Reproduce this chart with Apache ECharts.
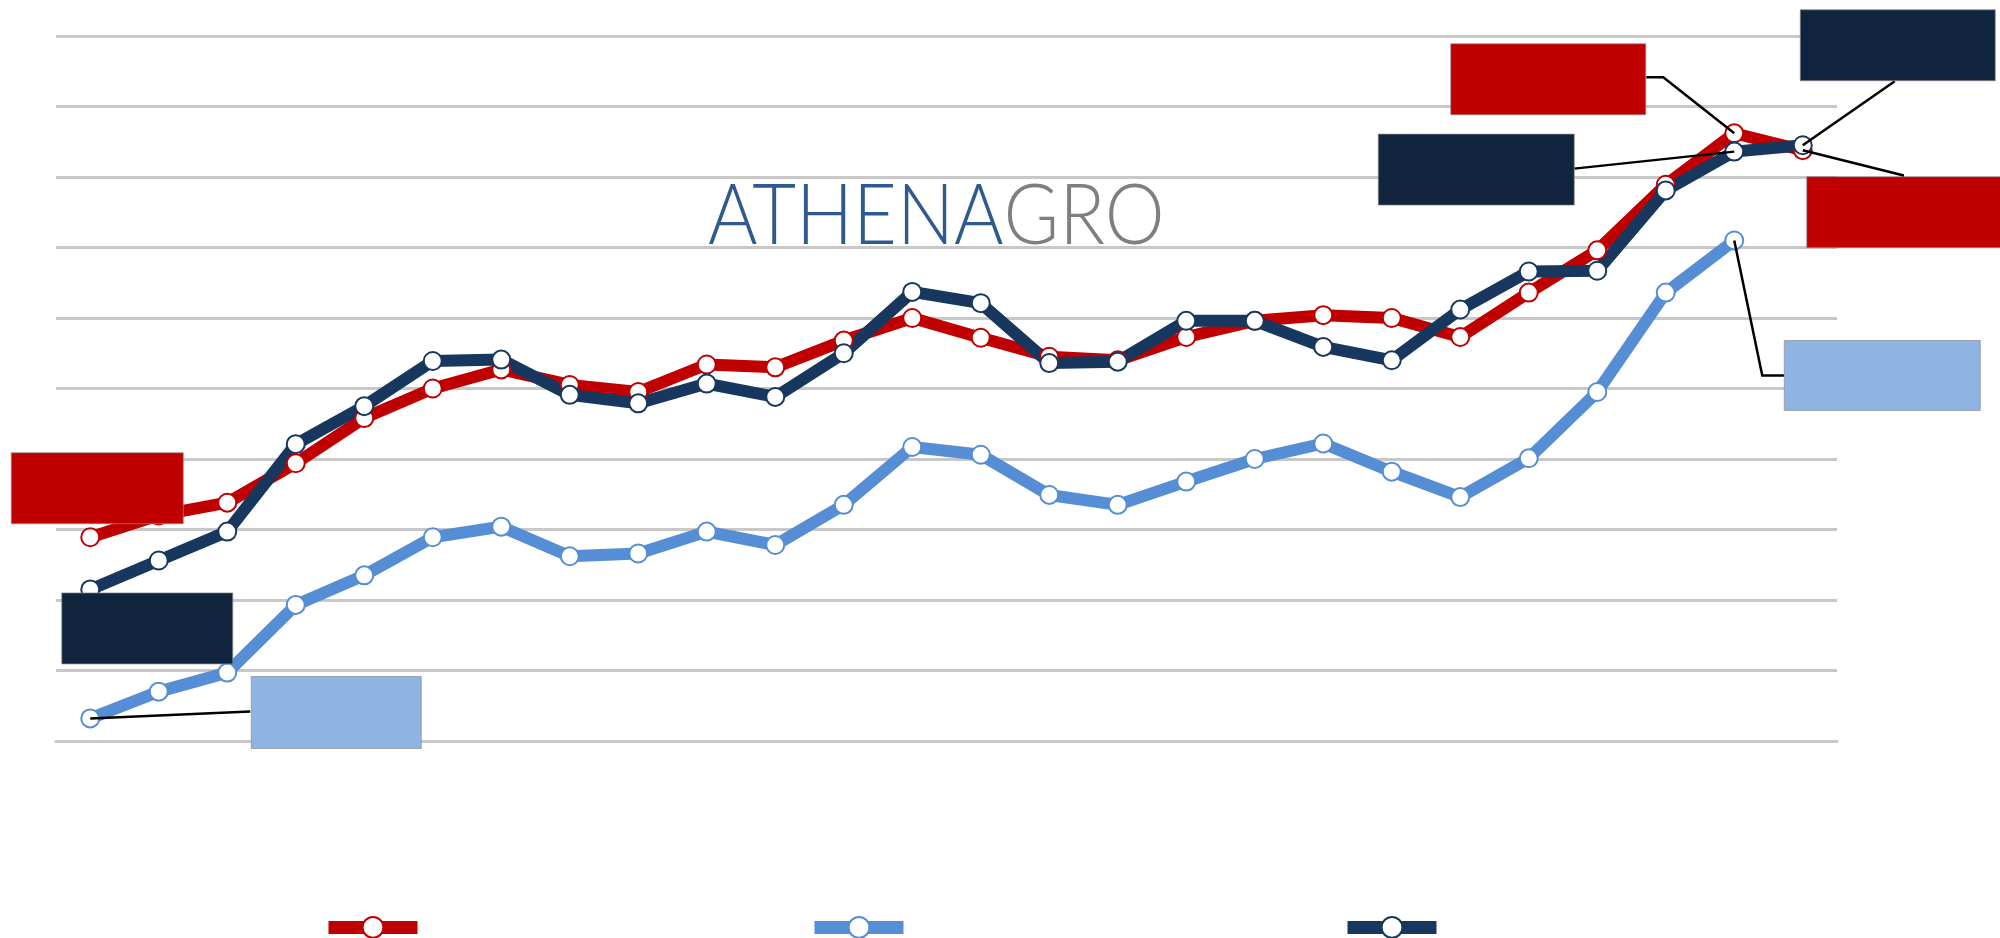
<!DOCTYPE html>
<html>
<head>
<meta charset="utf-8">
<title>ATHENAGRO</title>
<script src="https://cdn.jsdelivr.net/npm/echarts@6/dist/echarts.min.js"></script>
<style>
  html, body { margin: 0; padding: 0; background: #fff; }
  #chart { width: 2000px; height: 938px; }
</style>
</head>
<body>
<div id="chart"></div>
<script>
// categorias (las etiquetas del eje no se ven en el original)
const categories = ["1", "2", "3", "4", "5", "6", "7", "8", "9", "10", "11", "12", "13",
  "14", "15", "16", "17", "18", "19", "20", "21", "22", "23", "24", "25", "26"];

const seriesNames = ["Serie 1", "Serie 2", "Serie 3"];

const redValues = [2.89, 3.2, 3.38, 3.94, 4.58, 5.0, 5.27, 5.05, 4.95, 5.34, 5.3, 5.68, 6.0,
  5.72, 5.45, 5.4, 5.73, 5.96, 6.04, 6.0, 5.73, 6.36, 6.96, 7.89, 8.62, 8.38];
const lightBlueValues = [0.32, 0.7, 0.97, 1.93, 2.35, 2.89, 3.04, 2.62, 2.66, 2.97, 2.78, 3.35, 4.17,
  4.06, 3.49, 3.35, 3.68, 4.0, 4.22, 3.82, 3.46, 4.01, 4.95, 6.36, 7.1, null];
const navyValues = [2.15, 2.56, 2.97, 4.21, 4.75, 5.39, 5.41, 4.91, 4.79, 5.07, 4.88, 5.5, 6.37,
  6.21, 5.36, 5.38, 5.96, 5.96, 5.59, 5.4, 6.12, 6.66, 6.67, 7.81, 8.36, 8.45];

const yMin = 0;
const yMax = 10;
const yStep = 1;

const RED = "#C00000";
const LIGHT_BLUE = "#558ED5";
const NAVY = "#17375E";

// cajas de etiqueta (vacias en el original): a que punto van y como se dibujan
const seriesValues = [redValues, lightBlueValues, navyValues];
const notes = [
  { s: 0, i: 0, dx: 7, dy: -49, w: 172, h: 71, color: RED, leader: null },
  { s: 2, i: 0, dx: 57, dy: 39, w: 171, h: 71, color: "#10243E", leader: null },
  { s: 1, i: 0, dx: 246, dy: -6, w: 170, h: 72, color: "#8EB4E3", leader: [[0, 0], [160, -7]] },
  { s: 0, i: 24, dx: -186, dy: -54, w: 195, h: 71, color: RED, leader: [[0, 0], [-71, -56], [-88, -56]] },
  { s: 2, i: 24, dx: -258, dy: 18, w: 196, h: 71, color: "#10243E", leader: [[0, 0], [-160, 17]] },
  { s: 2, i: 25, dx: 95, dy: -100, w: 195, h: 71, color: "#10243E", leader: [[0, 0], [92, -64]] },
  { s: 0, i: 25, dx: 102, dy: 62, w: 196, h: 71, color: RED, leader: [[0, 0], [100, 25], [100, 28]] },
  { s: 1, i: 24, dx: 148, dy: 135, w: 196, h: 70, color: "#8EB4E3", leader: [[0, 0], [28, 135], [50, 135]] }
];

const chart = echarts.init(document.getElementById("chart"));

function lineSeries(name, values, color) {
  return {
    name: name,
    type: "line",
    data: values,
    symbol: "circle",
    symbolSize: 18,
    color: color,
    lineStyle: { width: 12, color: color },
    itemStyle: { color: "#ffffff", borderColor: color, borderWidth: 2 },
    emphasis: { disabled: true },
    z: 3
  };
}

function legendAt(name, left) {
  return {
    data: [name],
    left: left,
    top: 911,
    itemWidth: 89,
    itemHeight: 26,
    lineStyle: { width: 13 },
    textStyle: { color: "#ffffff", fontSize: 18 }
  };
}

const option = {
  backgroundColor: "#ffffff",
  animation: false,
  grid: { left: 56, right: 163, top: 36, bottom: 197 },
  legend: [
    legendAt(seriesNames[0], 317),
    legendAt(seriesNames[1], 803),
    legendAt(seriesNames[2], 1336)
  ],
  xAxis: {
    type: "category",
    data: categories,
    boundaryGap: true,
    axisTick: { show: false },
    axisLabel: { show: false },
    axisLine: { lineStyle: { color: "#C8C8C8", width: 3 } }
  },
  yAxis: {
    type: "value",
    min: yMin,
    max: yMax,
    interval: yStep,
    axisLabel: { show: false },
    axisLine: { show: false },
    axisTick: { show: false },
    splitLine: { lineStyle: { color: "#C8C8C8", width: 3 } }
  },
  graphic: [
    {
      type: "group",
      left: 700,
      top: 175,
      z: 1,
      children: [
        { type: "rect", shape: { x: 0, y: 0, width: 465, height: 72 }, style: { fill: "#ffffff" } },
        {
          type: "text",
          x: 8,
          y: 37,
          scaleX: 0.9,
          style: {
            text: "{a|ATHENA}{b|GRO}",
            verticalAlign: "middle",
            rich: {
              a: { fontFamily: "Lato", fontWeight: 300, fontSize: 84, fill: "#2F5A8F" },
              b: { fontFamily: "Lato", fontWeight: 300, fontSize: 84, fill: "#7F7F7F" }
            }
          }
        }
      ]
    }
  ],
  series: [
    lineSeries(seriesNames[0], redValues, RED),
    lineSeries(seriesNames[1], lightBlueValues, LIGHT_BLUE),
    lineSeries(seriesNames[2], navyValues, NAVY),
    {
      type: "custom",
      z: 10,
      silent: true,
      data: notes.map(n => [n.i, seriesValues[n.s][n.i]]),
      renderItem: function (params, api) {
        const n = notes[params.dataIndex];
        const p = api.coord([api.value(0), api.value(1)]);
        const children = [];
        if (n.leader) {
          children.push({
            type: "polyline",
            shape: { points: n.leader.map(o => [p[0] + o[0], p[1] + o[1]]) },
            style: { stroke: "#000000", lineWidth: 2.5, fill: null }
          });
        }
        children.push({
          type: "rect",
          shape: { x: p[0] + n.dx - n.w / 2, y: p[1] + n.dy - n.h / 2, width: n.w, height: n.h },
          style: { fill: n.color, stroke: "rgba(140,140,140,0.7)", lineWidth: 1 }
        });
        return { type: "group", children: children };
      }
    }
  ]
};

chart.setOption(option);
</script>
</body>
</html>
